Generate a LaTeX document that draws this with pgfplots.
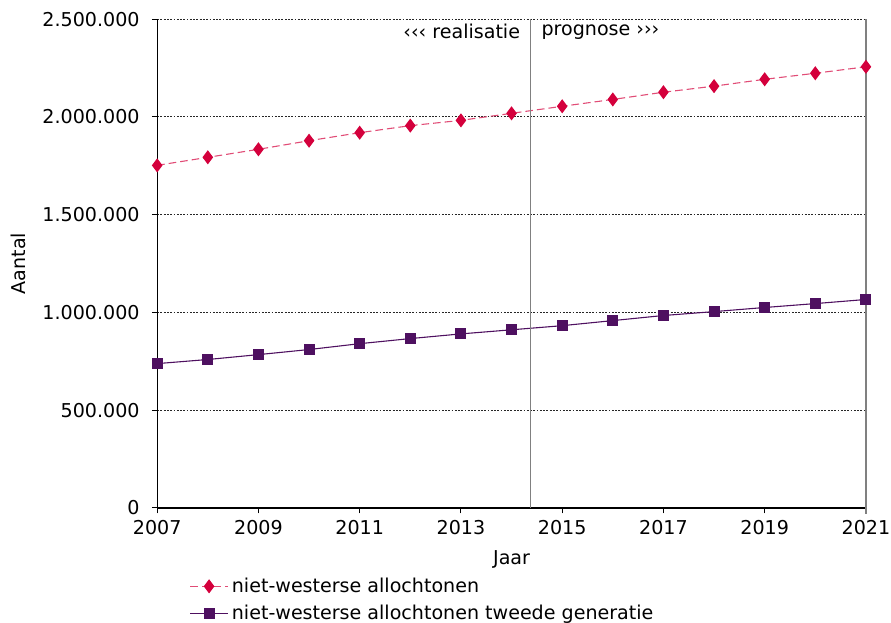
\documentclass[border=0pt]{standalone}
\usepackage{pgfplots}
\pgfplotsset{compat=1.18}
\usepackage{fontspec}
\setmainfont{DejaVu Sans}

\definecolor{nwred}{RGB}{212,0,60}
\definecolor{nwpurple}{RGB}{78,16,96}
\definecolor{divgray}{RGB}{128,128,128}

\begin{document}
\fontsize{10.5}{12.5}\selectfont
\begin{tikzpicture}
  \begin{axis}[
    scale only axis,
    width=390pt, height=269pt,
    xmin=2007, xmax=2021,
    ymin=0, ymax=2500000,
    axis x line*=bottom,
    axis y line*=left,
    axis line style={black, line width=0.7pt},
    xtick={2007,2009,...,2021},
    ytick={0,500000,...,2500000},
    tick align=outside,
    major tick length=3pt,
    tick style={black, line width=0.6pt},
    scaled ticks=false,
    /pgf/number format/assume math mode=true,
    yticklabel style={xshift=-3pt, /pgf/number format/.cd, fixed, precision=0, 1000 sep={.}},
    xticklabel style={/pgf/number format/.cd, fixed, 1000 sep={}},
    ymajorgrids,
    grid style={black!85, dash pattern=on 1pt off 0.8pt, line width=0.5pt},
    xlabel={Jaar},
    ylabel={Aantal},
    xlabel style={yshift=-1.5pt},
    ylabel style={yshift=2pt},
    legend style={
      at={(axis description cs:0.038,-0.127)}, anchor=north west,
      draw=none, fill=none, font=\fontsize{10.5}{12.5}\selectfont,
      row sep=1.5pt,
      legend cell align=left,
    },
    legend image code/.code={
      \draw[mark repeat=2, mark phase=2, #1]
        plot coordinates {(0cm,0cm) (0.36cm,0cm) (0.72cm,0cm)};
    },
    clip=false,
  ]
  \addplot[color=nwred!70, line width=0.6pt, dash pattern=on 4.2pt off 2.2pt,
           mark=diamond*, mark size=3.4pt,
           mark options={solid, fill=nwred, draw=nwred}]
  coordinates {
    (2007,1752000) (2008,1793000) (2009,1834000) (2010,1878000)
    (2011,1919000) (2012,1955000) (2013,1982000) (2014,2018000)
    (2015,2054000) (2016,2089000) (2017,2126000) (2018,2157000)
    (2019,2192000) (2020,2223000) (2021,2256000)
  };
  \addlegendentry{niet-westerse allochtonen}

  \addplot[color=nwpurple, line width=0.6pt,
           mark=square*, mark size=2.7pt,
           mark options={solid, fill=nwpurple, draw=nwpurple}]
  coordinates {
    (2007,738000) (2008,759000) (2009,784000) (2010,810000)
    (2011,840000) (2012,866000) (2013,890000) (2014,911000)
    (2015,932000) (2016,958000) (2017,984000) (2018,1004000)
    (2019,1025000) (2020,1045000) (2021,1066000)
  };
  \addlegendentry{niet-westerse allochtonen tweede generatie}

  \draw[divgray, line width=0.7pt] (axis cs:2014.37,0) -- (axis cs:2014.37,2500000);
  \draw[divgray, line width=0.9pt] (axis cs:2021,-30000) -- (axis cs:2021,2500000);
  \node[anchor=east] at (axis cs:2014.30,2435000) {‹‹‹ realisatie};
  \node[anchor=west] at (axis cs:2014.46,2435000) {prognose ›››};
  \end{axis}
  \pgfresetboundingbox
  \path[use as bounding box]
    ([shift={(-86.5pt,-63.3pt)}]current axis.south west) rectangle
    ([shift={(13.8pt,10.5pt)}]current axis.north east);
\end{tikzpicture}
\end{document}
